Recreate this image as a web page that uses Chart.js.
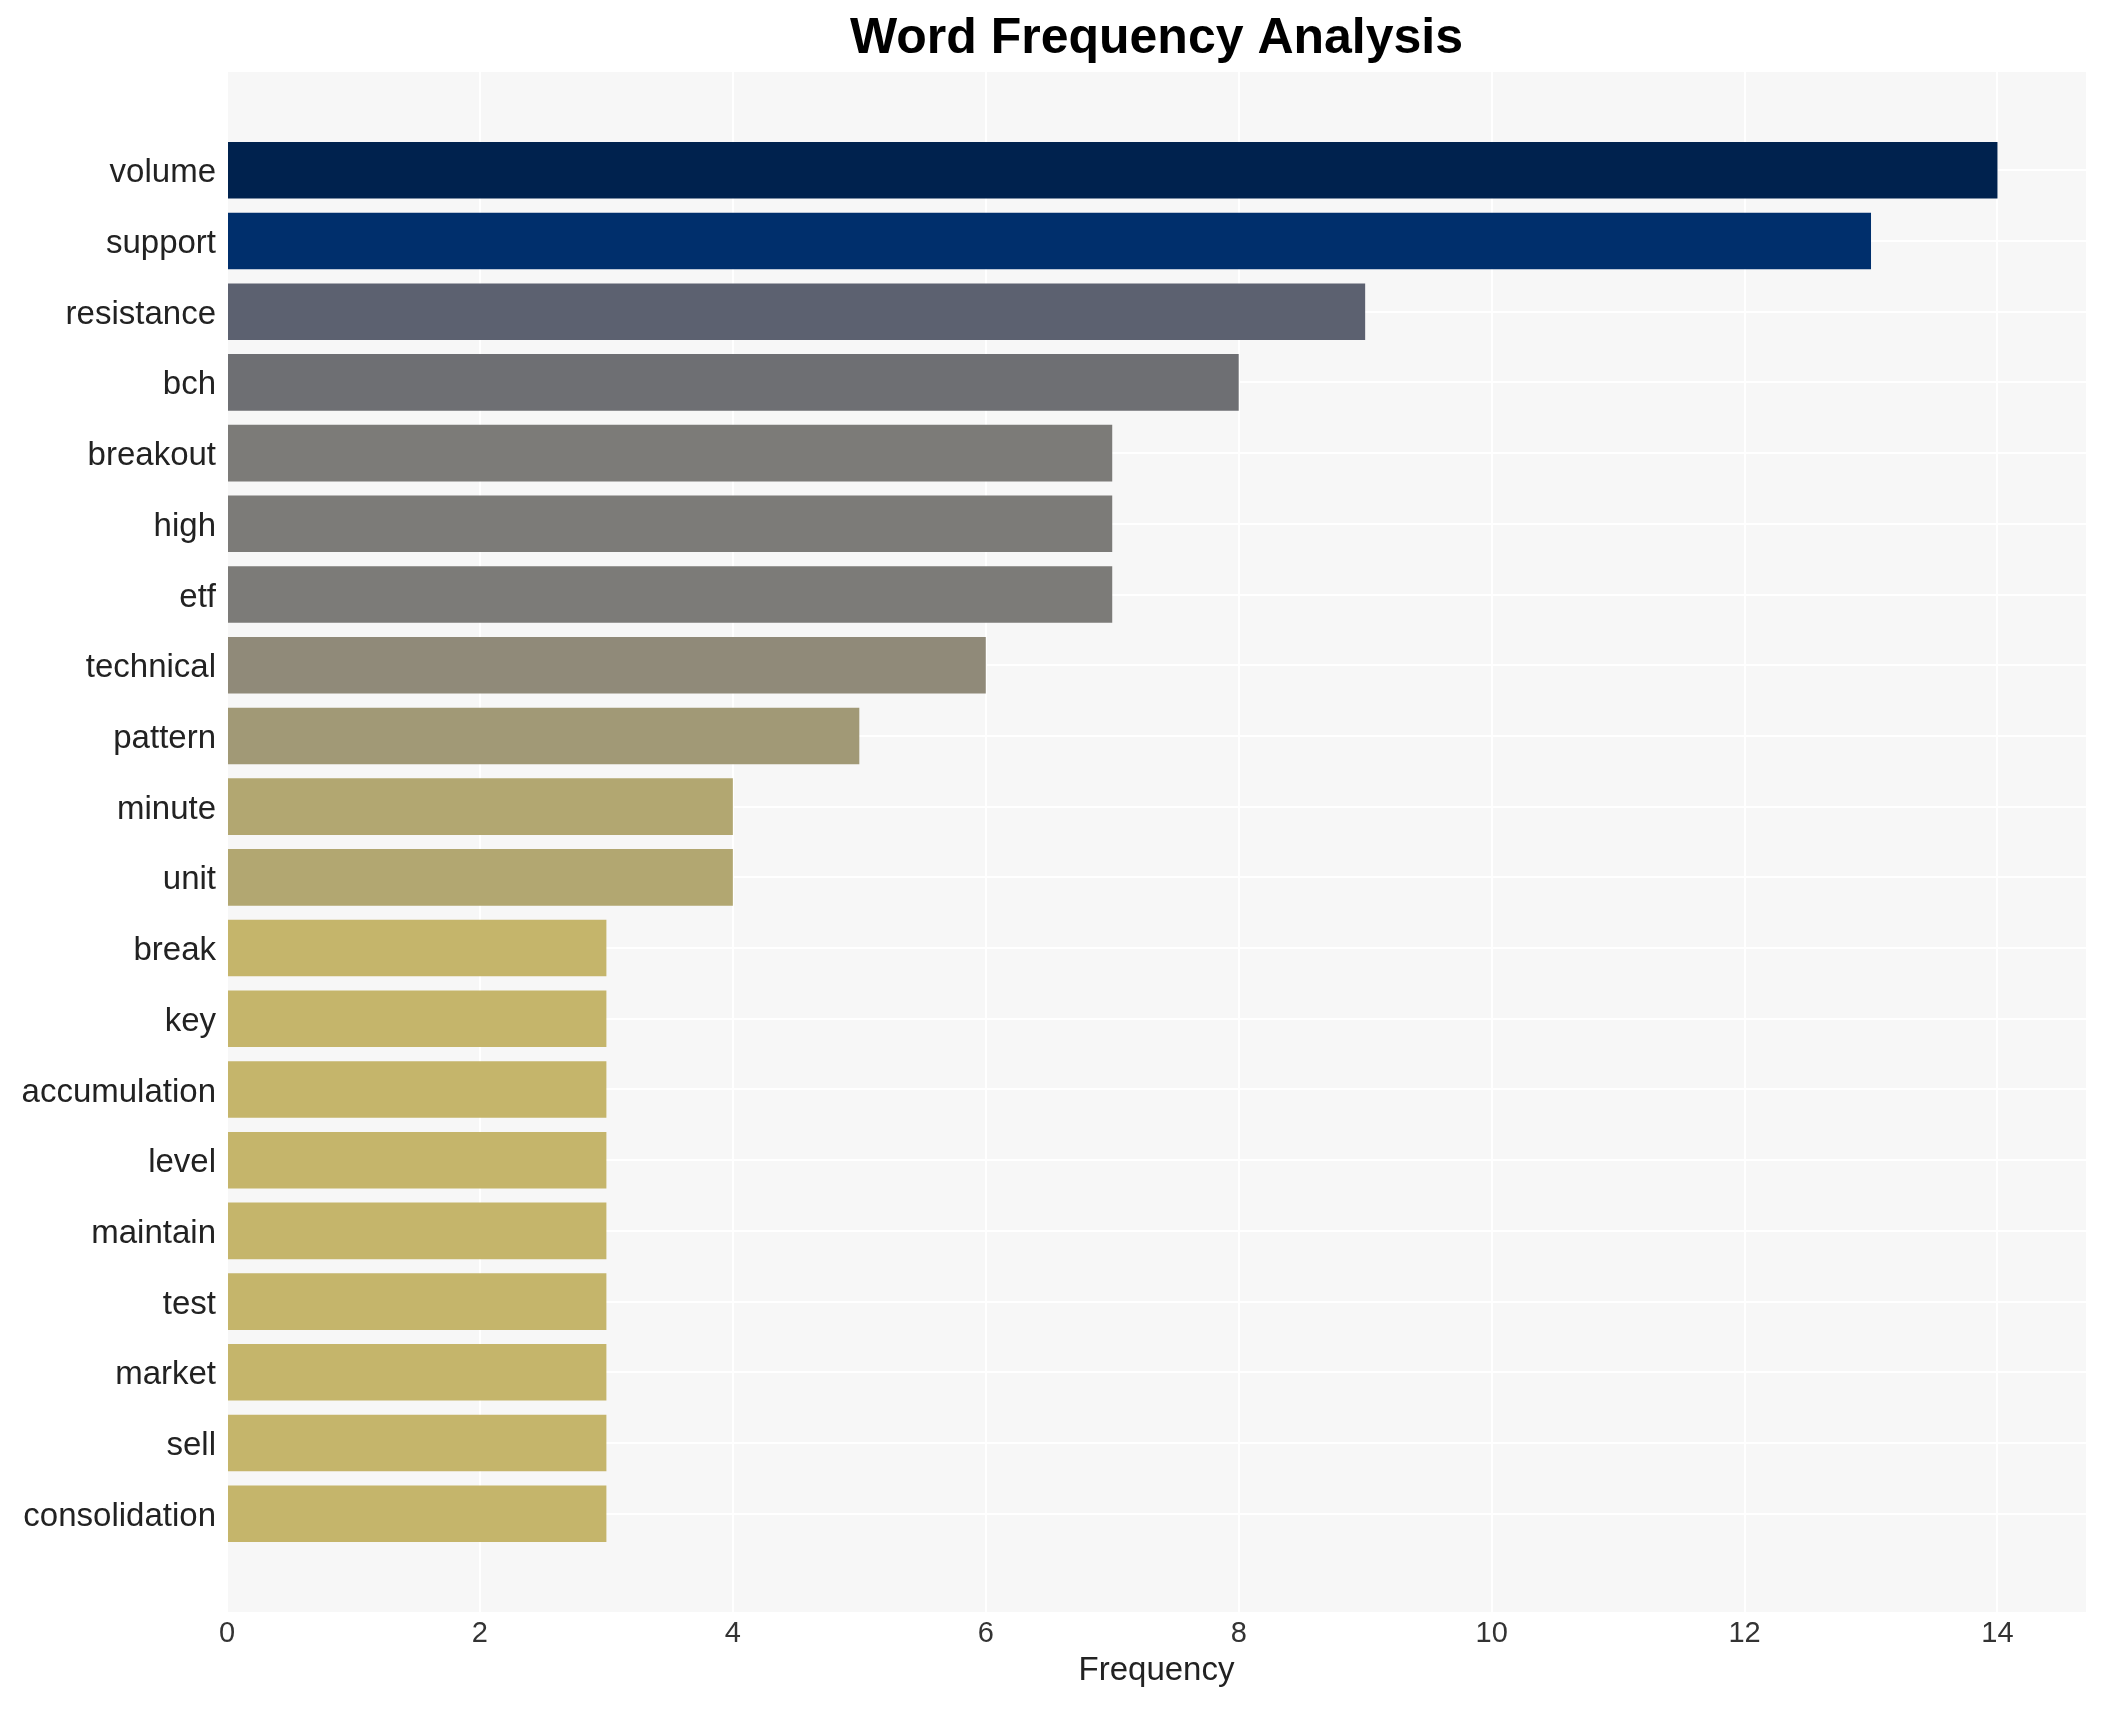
<!DOCTYPE html>
<html>
<head>
<meta charset="utf-8">
<script src="https://cdn.jsdelivr.net/npm/chart.js@4"></script>
<style>
html,body{margin:0;padding:0;background:#ffffff;}
#wrap{width:2106px;height:1710px;}
</style>
</head>
<body>
<div id="wrap"><canvas id="c" width="2106" height="1710"></canvas></div>
<script>
// ---- data ----
const words = ["volume","support","resistance","bch","breakout","high","etf","technical","pattern","minute","unit","break","key","accumulation","level","maintain","test","market","sell","consolidation"];
const frequencies = [14,13,9,8,7,7,7,6,5,4,4,3,3,3,3,3,3,3,3,3];
const xTickValues = [0,2,4,6,8,10,12,14];
// ---- styles ----
const barColors = ["#00224e","#002f6c","#5c6170","#6e6f73","#7c7b78","#7c7b78","#7c7b78","#908a79","#a19976","#b2a771","#b2a771","#c5b56b","#c5b56b","#c5b56b","#c5b56b","#c5b56b","#c5b56b","#c5b56b","#c5b56b","#c5b56b"];
const FONT = "'Liberation Sans', Arial, Helvetica, sans-serif";

const points = words.map((w, i) => ({ x: frequencies[i], y: i }));

const panelBg = {
  id: 'panelBg',
  beforeDraw(chart) {
    const ctx = chart.ctx, a = chart.chartArea;
    ctx.save();
    ctx.fillStyle = '#ffffff';
    ctx.fillRect(0, 0, chart.width, chart.height);
    ctx.fillStyle = '#f7f7f7';
    ctx.fillRect(a.left, a.top, a.right - a.left, a.bottom - a.top);
    ctx.restore();
  }
};

new Chart(document.getElementById('c'), {
  type: 'bar',
  data: {
    datasets: [{
      data: points,
      backgroundColor: barColors,
      borderWidth: 0,
      barPercentage: 0.8,
      categoryPercentage: 1.0
    }]
  },
  options: {
    indexAxis: 'y',
    responsive: false,
    devicePixelRatio: 1,
    animation: false,
    layout: { padding: { left: 0, right: 20, top: 0, bottom: 0 } },
    plugins: {
      legend: { display: false },
      tooltip: { enabled: false },
      title: {
        display: true,
        text: 'Word Frequency Analysis',
        fullSize: false,
        align: 'center',
        color: '#000000',
        font: { family: FONT, size: 50, weight: 'bold', lineHeight: 1.2 },
        padding: { top: 9, bottom: 3 }
      }
    },
    scales: {
      x: {
        type: 'linear',
        position: 'bottom',
        min: 0,
        max: 14.7,
        afterBuildTicks(scale) { scale.ticks = xTickValues.map(v => ({ value: v })); },
        afterFit(scale) { scale.height = 98; },
        grid: { color: '#ffffff', lineWidth: 2, drawTicks: false },
        border: { display: false },
        ticks: {
          color: '#333333',
          font: { family: FONT, size: 29 },
          padding: 5,
          maxRotation: 0,
          callback: (v) => String(v)
        },
        title: {
          display: true,
          text: 'Frequency',
          color: '#222222',
          font: { family: FONT, size: 33 },
          padding: { top: 0, bottom: 19 }
        }
      },
      y: {
        type: 'linear',
        reverse: true,
        offset: false,
        min: -1.39,
        max: 20.39,
        afterBuildTicks(scale) { scale.ticks = words.map((w, i) => ({ value: i })); },
        afterFit(scale) { scale.width = 227; },
        grid: { color: '#ffffff', lineWidth: 2, drawTicks: false, offset: false },
        border: { display: false },
        ticks: {
          color: '#222222',
          font: { family: FONT, size: 33 },
          padding: 11,
          labelOffset: 3,
          autoSkip: false,
          callback: (v) => words[Math.round(v)]
        }
      }
    }
  },
  plugins: [panelBg]
});
</script>
</body>
</html>
